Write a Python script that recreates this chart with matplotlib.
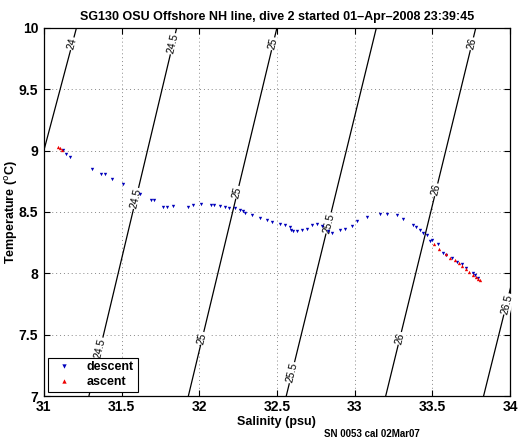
import numpy as np
import matplotlib
matplotlib.use("Agg")
import matplotlib.pyplot as plt

plt.rcParams['font.family'] = ['Liberation Sans', 'DejaVu Sans']

# sigma-t isopycnals: salinity where each one crosses T=7 and T=10
sig_levels = [24, 24.5, 25, 25.5, 26, 26.5]
sig_s_at_7 = [30.58, 31.29, 31.93, 32.56, 33.20, 33.83]
sig_s_at_10 = [31.21, 31.855, 32.50, 33.14, 33.78, 34.42]
# temperatures where the contour labels sit
sig_label_t = {24: [9.87], 24.5: [9.87, 8.61, 7.39], 25: [9.87, 8.66, 7.47],
               25.5: [8.41, 7.19], 26: [9.87, 8.68, 7.47], 26.5: [7.75]}

# descent (salinity, temperature)
desc_s = [31.122, 31.141, 31.167, 31.309, 31.367, 31.392, 31.437, 31.508, 31.617, 31.688,
          31.707, 31.765, 31.791, 31.830, 31.926, 31.958, 32.010, 32.074, 32.093, 32.132,
          32.164, 32.190, 32.228, 32.260, 32.280, 32.292, 32.337, 32.389, 32.434, 32.466,
          32.518, 32.550, 32.582, 32.588, 32.601, 32.627, 32.659, 32.691, 32.723, 32.755,
          32.788, 32.826, 32.852, 32.903, 32.936, 32.981, 33.013, 33.077, 33.161, 33.206,
          33.270, 33.309, 33.373, 33.392, 33.418, 33.437, 33.463, 33.482, 33.501, 33.534,
          33.566, 33.591, 33.624, 33.662, 33.688, 33.720, 33.759, 33.778, 33.791]
desc_t = [9.002, 8.969, 8.945, 8.847, 8.806, 8.806, 8.765, 8.724, 8.650, 8.601,
          8.601, 8.544, 8.544, 8.552, 8.544, 8.560, 8.568, 8.560, 8.560, 8.552,
          8.544, 8.536, 8.536, 8.519, 8.511, 8.495, 8.479, 8.454, 8.438, 8.422,
          8.405, 8.397, 8.381, 8.356, 8.348, 8.348, 8.356, 8.365, 8.397, 8.405,
          8.389, 8.348, 8.332, 8.356, 8.365, 8.389, 8.430, 8.462, 8.487, 8.487,
          8.471, 8.446, 8.397, 8.381, 8.356, 8.332, 8.315, 8.266, 8.274, 8.242,
          8.168, 8.152, 8.127, 8.094, 8.078, 8.045, 8.005, 7.988, 7.964]

# ascent
asc_s = [31.090, 31.103, 31.116, 33.508, 33.546, 33.591, 33.617, 33.643, 33.675, 33.694,
         33.720, 33.739, 33.765, 33.784, 33.797, 33.804]
asc_t = [9.027, 9.019, 9.002, 8.242, 8.201, 8.160, 8.127, 8.111, 8.086, 8.062,
         8.037, 8.013, 7.988, 7.972, 7.956, 7.947]

fig = plt.figure(figsize=(5.22, 4.42), dpi=100)
ax = fig.add_axes([0.084, 0.104, 0.893, 0.833])
ax.set_xlim(31, 34)
ax.set_ylim(7, 10)

for lev, s7, s10 in zip(sig_levels, sig_s_at_7, sig_s_at_10):
    ax.plot([s7, s10], [7, 10], color='k', lw=0.9, zorder=2)
    p1 = ax.transData.transform((s7, 7))
    p2 = ax.transData.transform((s10, 10))
    ang = np.degrees(np.arctan2(p2[1] - p1[1], p2[0] - p1[0]))
    for t in sig_label_t[lev]:
        s = s7 + (s10 - s7) * (t - 7) / 3
        ax.text(s, t, f'{lev:g}', rotation=ang, rotation_mode='anchor',
                ha='center', va='center', fontsize=7.5, zorder=3,
                bbox=dict(facecolor='white', edgecolor='none', pad=0.5))

ax.plot(desc_s, desc_t, 'v', color='#0000bb', ms=2.4, mew=0, ls='none',
        label='descent', zorder=4)
ax.plot(asc_s, asc_t, '^', color='#ee0000', ms=2.4, mew=0, ls='none',
        label='ascent', zorder=5)

ax.set_xticks([31, 31.5, 32, 32.5, 33, 33.5, 34])
ax.set_xticklabels(['31', '31.5', '32', '32.5', '33', '33.5', '34'])
ax.set_yticks([7, 7.5, 8, 8.5, 9, 9.5, 10])
ax.set_yticklabels(['7', '7.5', '8', '8.5', '9', '9.5', '10'])
ax.grid(True, color='#888888', ls=(0, (1, 3)), lw=0.7)
ax.set_axisbelow(True)
ax.tick_params(direction='in', length=4, labelsize=10, top=True, right=True)
ax.tick_params(axis='x', pad=3)
ax.tick_params(axis='y', pad=4)
for lab in ax.get_xticklabels() + ax.get_yticklabels():
    lab.set_fontweight('bold')
for sp in ax.spines.values():
    sp.set_linewidth(0.9)

ax.set_xlabel('Salinity (psu)', fontsize=9, fontweight='bold', labelpad=1)
ax.set_ylabel(r'Temperature ($^{\rm o}$C)', fontsize=9, fontweight='bold', va='center')
ax.yaxis.set_label_coords(-0.069, 0.5)
ax.set_title('SG130 OSU Offshore NH line, dive 2 started 01\u2013Apr\u20132008 23:39:45',
             fontsize=9, fontweight='bold', pad=6)

leg = ax.legend(loc='lower left', prop={'weight': 'bold', 'size': 9}, fancybox=False,
                edgecolor='k', framealpha=1, borderaxespad=0.35, handlelength=2,
                markerscale=1.3, borderpad=0.3, labelspacing=0.2)
leg.get_frame().set_linewidth(0.8)

fig.text(0.62, 0.012, 'SN 0053 cal 02Mar07', fontsize=7, fontweight='bold')

fig.savefig('out.png', dpi=100)
